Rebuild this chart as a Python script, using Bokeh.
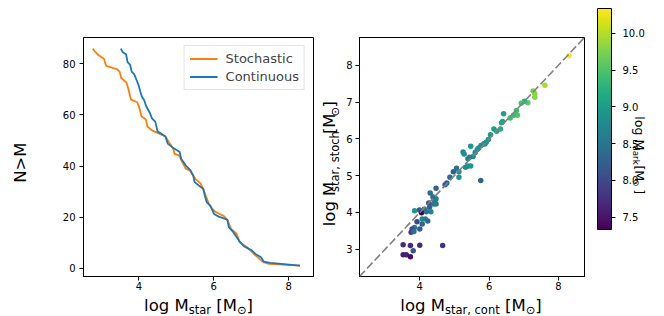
import math
from bokeh.plotting import figure
from bokeh.layouts import row, column
from bokeh.models import (Label, Slope, LinearColorMapper, Range1d, PrintfTickFormatter,
                          FixedTicker, ColorBar)
from bokeh.transform import linear_cmap
from bokeh.palettes import Viridis256
from bokeh.embed import file_html
from bokeh.resources import INLINE

# ---------------- data ----------------
stoch_logm = [2.77, 2.85, 2.92, 3.07, 3.13, 3.41, 3.49, 3.53, 3.67, 3.73, 3.79, 3.96, 4.03, 4.07,
              4.19, 4.23, 4.35, 4.50, 4.71, 4.80, 4.92, 4.95, 5.07, 5.16, 5.25, 5.36, 5.42, 5.51,
              5.65, 5.73, 5.78, 5.87, 5.93, 6.05, 6.27, 6.37, 6.46, 6.61, 6.69, 6.89, 6.98, 7.11,
              7.32, 7.47, 8.30]
stoch_n = [86, 84.5, 83.5, 82, 79.2, 78, 77, 74.5, 72.7, 69.8, 66, 65, 62, 59.5,
           58.2, 55.5, 54, 53, 51.6, 49.4, 46.8, 44.8, 44.2, 41.6, 39.0, 38.3, 37, 35,
           33.1, 30.5, 28.5, 25.2, 23.7, 22, 20.4, 18.7, 15.4, 13.5, 10.2, 8.2, 6.9, 5.0,
           2.4, 1.7, 1]
cont_logm = [3.52, 3.57, 3.66, 3.70, 3.77, 3.81, 3.88, 3.95, 3.99, 4.04, 4.08, 4.14, 4.20, 4.29,
             4.35, 4.44, 4.50, 4.60, 4.71, 4.77, 4.89, 5.09, 5.13, 5.25, 5.38, 5.45, 5.49, 5.60,
             5.72, 5.76, 5.81, 5.91, 6.01, 6.13, 6.36, 6.40, 6.52, 6.67, 6.80, 7.02, 7.11, 7.26,
             7.33, 7.51, 8.30]
cont_n = [86, 84.6, 83.8, 80.7, 79.6, 77, 75.9, 73.3, 71.8, 69.2, 67.2, 65.9, 63.3, 61,
          58.7, 57.4, 53.5, 52.7, 51.6, 48.8, 47.4, 45.5, 42.9, 40.3, 38.3, 36.3, 33.7, 32.4,
          31.1, 28.5, 25.9, 24.4, 21.2, 20.2, 19, 16.1, 14.1, 10.8, 8.6, 6.9, 5.6, 4.3,
          2.6, 2.1, 1]

sc_cont = [8.31, 7.61, 7.27, 7.32, 7.32, 7.12, 7.02, 6.93, 6.82, 6.79, 6.71, 6.61, 6.42, 6.39,
           6.36, 6.33, 6.14, 6.04, 5.98, 5.92, 5.85, 5.77, 5.70, 5.66, 5.47, 5.25, 5.28, 5.44,
           5.54, 5.39, 5.39, 5.47, 5.32, 5.06, 5.13, 4.97, 5.13, 4.87, 4.78, 4.73, 5.76, 4.47,
           4.30, 4.47, 4.43, 4.47, 4.40, 4.26, 4.28, 4.32, 4.13, 3.99, 3.85, 4.05, 4.19, 4.07,
           4.16, 4.23, 3.92, 4.07, 3.85, 3.78, 3.75, 3.83, 4.00, 3.52, 3.73, 4.00, 4.66, 3.81,
           3.52, 3.61, 3.73, 6.22, 5.88, 5.60, 4.38]
sc_stoch = [8.26, 7.46, 7.30, 7.23, 7.13, 6.98, 7.02, 6.97, 6.64, 6.77, 6.64, 6.57, 6.68, 6.47,
            6.44, 6.27, 6.27, 6.11, 5.98, 5.91, 5.87, 5.82, 5.75, 5.71, 5.80, 5.64, 5.59, 5.50,
            5.52, 5.46, 5.26, 5.26, 5.23, 5.20, 5.11, 5.11, 4.96, 4.96, 4.80, 4.75, 4.87, 4.66,
            4.53, 4.37, 4.29, 4.23, 4.23, 4.26, 4.14, 4.02, 4.09, 4.07, 4.05, 3.99, 4.02, 3.82,
            3.82, 3.77, 3.75, 3.69, 3.59, 3.55, 3.46, 3.48, 3.55, 3.12, 3.10, 3.11, 3.10, 2.96,
            2.85, 2.85, 2.80, 6.21, 5.86, 5.63, 4.42]
sc_mdark = [10.34, 9.95, 9.70, 9.80, 9.80, 9.60, 9.30, 9.50, 9.50, 9.40, 9.40, 9.40, 9.00, 9.10,
            9.10, 9.20, 9.00, 9.00, 8.90, 8.90, 8.80, 8.80, 8.80, 8.90, 8.90, 8.80, 8.80, 8.70,
            8.70, 8.60, 8.90, 8.90, 8.80, 8.40, 8.80, 8.30, 8.90, 8.40, 8.30, 8.20, 8.30, 8.30,
            8.40, 8.70, 8.60, 8.50, 8.60, 8.00, 8.30, 8.70, 8.50, 8.20, 8.90, 7.33, 8.50, 8.70,
            8.60, 8.40, 8.00, 8.30, 8.60, 8.00, 7.90, 8.40, 8.20, 7.70, 7.70, 7.70, 7.80, 8.10,
            7.60, 7.60, 7.45, 9.10, 8.90, 8.80, 8.40]

n_ticks = [0, 20, 40, 60, 80]
mstar_ticks = [4, 6, 8]
stoch_ticks = [3, 4, 5, 6, 7, 8]
mdark_ticks = [7.5, 8.0, 8.5, 9.0, 9.5, 10.0]
mdark_low, mdark_high = 7.33, 10.34

FONT = "DejaVu Sans"
# DejaVu Sans advance widths (em) used to place composed (subscripted) labels
W = {' ': 0.318, 'l': 0.278, 'o': 0.612, 'g': 0.635, 'M': 0.863, 's': 0.521, 't': 0.392,
     'a': 0.613, 'r': 0.411, '[': 0.390, ']': 0.390, ',': 0.318, 'c': 0.550, 'n': 0.634,
     'h': 0.634, 'd': 0.635, 'k': 0.579, '\u2299': 0.838, 'N': 0.748, '>': 0.838}
MID = 0.3   # distance (em) from the alphabetic baseline up to the "middle" anchor


def twidth(s, size):
    return sum(W.get(ch, 0.6) for ch in s) * size


def compose(fig, center, base, pieces, angle, subgap=0.0):
    """Place a label made of pieces (text, size, drop); base = alphabetic baseline (page px).
    Every piece is centred on its own slot, which keeps rotated pieces aligned."""
    adv = [twidth(t, s) + (subgap if d else 0.0) for t, s, d in pieces]
    total = sum(adv)
    pos = -total / 2.0
    for (txt, size, drop), a in zip(pieces, adv):
        lead = len(txt) - len(txt.lstrip(' '))
        core = txt.strip(' ')
        c0 = pos + twidth(' ' * lead, size) + twidth(core, size) / 2.0
        m = MID * size
        if angle == 0:
            px, py, ang = center + c0, base + drop - m, 0.0
        elif angle > 0:
            px, py, ang = base + drop - m, center - c0, math.pi / 2
        else:
            px, py, ang = base - drop + m, center + c0, -math.pi / 2
        fig.add_layout(Label(x=px, y=py, text=core, text_font=FONT,
                             text_font_size=f"{size}px", angle=ang, text_color="black",
                             text_align="center", text_baseline="middle"))
        pos += a


def strip(x0, x1, y0, y1):
    """Blank figure whose frame covers its canvas, ranges in page pixels."""
    f = figure(width=x1 - x0, height=y1 - y0, output_backend="svg", toolbar_location=None,
               title=None, x_range=Range1d(x0, x1), y_range=Range1d(y1, y0),
               x_axis_location=None, y_axis_location=None, min_border=0)
    f.min_border_left = f.min_border_right = f.min_border_top = f.min_border_bottom = 0
    f.outline_line_color = None
    f.grid.visible = False
    return f


def style_axes(fig, ystandoff=4, xstandoff=1):
    fig.outline_line_color = "black"
    fig.outline_line_width = 1
    fig.grid.visible = False
    for ax in fig.axis:
        ax.major_tick_out = 4
        ax.major_tick_in = 0
        ax.minor_tick_line_color = None
        ax.major_label_text_font = FONT
        ax.major_label_text_font_size = "10px"
        ax.major_label_text_color = "black"
        ax.axis_line_color = "black"
        ax.major_tick_line_color = "black"
        ax.axis_label = None
    for ax in fig.yaxis:
        ax.major_label_standoff = ystandoff
    for ax in fig.xaxis:
        ax.major_label_standoff = xstandoff


# ---------------- geometry (page pixels) ----------------
HM = 297          # height of the row of panels
FT, FH = 37, 239  # frame top / height
BB = HM - FT - FH
AXF, SUBF, DROP = 16.5, 11.5, 3.6

# left label strip
A = strip(0, 45, 0, HM)
compose(A, FT + FH / 2 - 1, 25, [("N>M", AXF, 0)], 90)

# ---------------- left panel ----------------
BL1, FW1, BR1 = 38, 230, 4
xr1, yr1 = (2.525, 8.659), (-3.25, 90.35)
p1 = figure(width=BL1 + FW1 + BR1, height=HM, output_backend="svg", toolbar_location=None,
            title=None, x_range=Range1d(*xr1), y_range=Range1d(*yr1),
            min_border_left=BL1, min_border_right=BR1, min_border_top=FT, min_border_bottom=BB)
p1.line(stoch_logm, stoch_n, line_color="#ff7f0e", line_width=1.8, legend_label="Stochastic")
p1.line(cont_logm, cont_n, line_color="#1f77b4", line_width=1.8, legend_label="Continuous")
p1.xaxis.ticker = mstar_ticks
p1.yaxis.ticker = n_ticks
style_axes(p1)
lg = p1.legend[0]
lg.location = "top_right"
lg.margin = 8
lg.padding = 5
lg.spacing = 3
lg.label_height = 15
lg.glyph_height = 15
lg.glyph_width = 28
lg.label_standoff = 8
lg.label_text_font = FONT
lg.label_text_font_size = "13px"
lg.border_line_color = "#cccccc"
lg.border_line_width = 1
lg.background_fill_alpha = 0.8

# strip for the right panel's y label
X1_END = 45 + BL1 + FW1 + BR1          # 317
C = strip(X1_END, X1_END + 26, 0, HM)
compose(C, FT + FH / 2 - 2, 334,
        [("log M", AXF, 0), ("star, stoch", SUBF, DROP), (" [M", AXF, 0), ("\u2299", SUBF, DROP), ("]", AXF, 0)],
        90, subgap=1.0)

# ---------------- right panel ----------------
X2 = X1_END + 26                        # 343
BL2, FW2, BR2 = 14, 227, 5
xr2 = yr2 = (2.26, 8.755)
p2 = figure(width=BL2 + FW2 + BR2, height=HM, output_backend="svg", toolbar_location=None,
            title=None, x_range=Range1d(*xr2), y_range=Range1d(*yr2),
            min_border_left=BL2, min_border_right=BR2, min_border_top=FT, min_border_bottom=BB)
cmap = linear_cmap("c", Viridis256, mdark_low, mdark_high)
p2.scatter(x="x", y="y", source=dict(x=sc_cont, y=sc_stoch, c=sc_mdark), size=5.5,
           fill_color=cmap, line_color=None)
p2.add_layout(Slope(gradient=1, y_intercept=0, line_color="#808080", line_width=1.6, line_dash="8 3"))
p2.xaxis.ticker = mstar_ticks
p2.yaxis.ticker = stoch_ticks
style_axes(p2, ystandoff=3)

# ---------------- colour bar panel ----------------
X3 = X2 + BL2 + FW2 + BR2               # 589
X3_END = 662
p3 = strip(X3, X3_END, 0, HM)
mapper = LinearColorMapper(palette=Viridis256, low=mdark_low, high=mdark_high)
CB_TOP, CB_H = 47, 221
cb = ColorBar(color_mapper=mapper, ticker=FixedTicker(ticks=mdark_ticks),
              formatter=PrintfTickFormatter(format="%.1f"), orientation="vertical",
              width=14, height=CB_H, padding=0, margin=0,
              location=(597 - X3, CB_TOP),
              major_tick_out=4, major_tick_in=0, major_tick_line_color="black",
              minor_tick_line_color=None, bar_line_color="black", bar_line_width=1,
              label_standoff=7, major_label_text_font=FONT, major_label_text_font_size="10px",
              major_label_text_color="black", background_fill_color=None)
p3.add_layout(cb)
CBF, CBS, CBD = 12.6, 8.8, 2.8
compose(p3, 148, 635.5,
        [("log M", CBF, 0), ("dark", CBS, CBD), (" [M", CBF, 0), ("\u2299", CBS, CBD), (" ]", CBF, 0)],
        -90, subgap=1.0)

# ---------------- bottom strip with the x labels ----------------
B = strip(0, X3_END, HM, 316)
XB, XD = 309.5, 3.3
compose(B, 45 + BL1 + FW1 / 2, XB,
        [("log M", AXF, 0), ("star", SUBF, XD), (" [M", AXF, 0), ("\u2299", SUBF, XD), ("]", AXF, 0)], 0)
compose(B, X2 + BL2 + FW2 / 2, XB,
        [("log M", AXF, 0), ("star, cont", SUBF, XD), (" [M", AXF, 0), ("\u2299", SUBF, XD), ("]", AXF, 0)], 0)

layout = column(row(A, p1, C, p2, p3), B)
open("out.html", "w").write(file_html(layout, INLINE))
